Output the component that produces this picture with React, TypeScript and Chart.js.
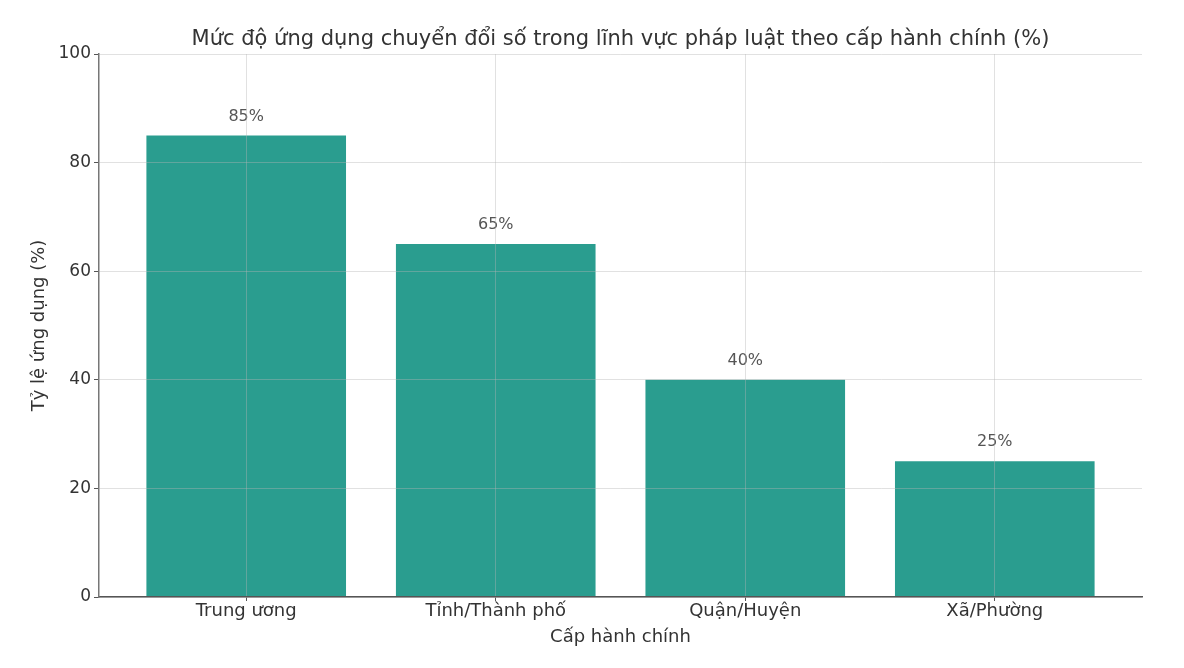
import { useEffect, useRef } from 'react';
import Chart from 'chart.js/auto';

const categories = ['Trung ương', 'Tỉnh/Thành phố', 'Quận/Huyện', 'Xã/Phường'];
const values = [85, 65, 40, 25];
const yTicks = [0, 20, 40, 60, 80, 100];

const chartTitle = 'Mức độ ứng dụng chuyển đổi số trong lĩnh vực pháp luật theo cấp hành chính (%)';
const xTitle = 'Cấp hành chính';
const yTitle = 'Tỷ lệ ứng dụng (%)';

const FONT = '"DejaVu Sans", sans-serif';

// value labels above the bars
const barLabels = {
    id: 'barLabels',
    afterDatasetsDraw(chart: any) {
        const ctx = chart.ctx;
        const meta = chart.getDatasetMeta(0);
        ctx.save();
        ctx.font = `16px ${FONT}`;
        ctx.fillStyle = '#555555';
        ctx.textAlign = 'center';
        ctx.textBaseline = 'middle';
        meta.data.forEach((bar: any, i: number) => {
            ctx.fillText(values[i] + '%', bar.x, bar.y - 19);
        });
        ctx.restore();
    }
};

// title centred over the plot area, like matplotlib does
const plotTitle = {
    id: 'plotTitle',
    afterDraw(chart: any) {
        const { ctx, chartArea } = chart;
        ctx.save();
        ctx.font = `21px ${FONT}`;
        ctx.fillStyle = '#333333';
        ctx.textAlign = 'center';
        ctx.textBaseline = 'middle';
        ctx.fillText(chartTitle, (chartArea.left + chartArea.right) / 2, chartArea.top - 14);
        ctx.restore();
    }
};

const App = () => {
    const canvas = useRef<HTMLCanvasElement>(null);

    useEffect(() => {
        const chart = new Chart(
            // @ts-expect-error next
            canvas.current,
            {
                type: 'bar',
                data: {
                    datasets: [{
                        label: yTitle,
                        data: values.map((v, i) => ({ x: i, y: v })),
                        backgroundColor: '#2a9d8f',
                        borderWidth: 0,
                        categoryPercentage: 1,
                        barPercentage: 0.8
                    }]
                },
                options: {
                    animation: false,
                    responsive: true,
                    maintainAspectRatio: false,
                    layout: {
                        padding: { left: 0, right: 42, top: 54, bottom: 0 }
                    },
                    plugins: {
                        legend: { display: false },
                        tooltip: { enabled: false },
                        title: { display: false }
                    },
                    scales: {
                        x: {
                            type: 'linear',
                            min: -0.59,
                            max: 3.59,
                            offset: false,
                            afterBuildTicks: (scale: any) => {
                                scale.ticks = categories.map((_, i) => ({ value: i }));
                            },
                            afterFit: (scale: any) => {
                                scale.height = 71;
                            },
                            ticks: {
                                autoSkip: false,
                                maxRotation: 0,
                                padding: 0,
                                color: '#333333',
                                font: { family: FONT, size: 18 },
                                callback: (value: any) => categories[value] ?? ''
                            },
                            grid: {
                                offset: false,
                                z: 1,
                                color: 'rgba(180, 180, 180, 0.4)',
                                tickColor: '#555555',
                                tickLength: 4
                            },
                            border: { color: '#555555', width: 1.5, z: 2 },
                            title: {
                                display: true,
                                text: xTitle,
                                color: '#333333',
                                font: { family: FONT, size: 18 },
                                padding: { top: 0, bottom: 20 }
                            }
                        },
                        y: {
                            min: 0,
                            max: 100,
                            afterBuildTicks: (scale: any) => {
                                scale.ticks = yTicks.map(v => ({ value: v }));
                            },
                            afterFit: (scale: any) => {
                                scale.width = 99;
                            },
                            ticks: {
                                padding: 3,
                                color: '#333333',
                                font: { family: FONT, size: 17 }
                            },
                            grid: {
                                z: 1,
                                color: 'rgba(180, 180, 180, 0.4)',
                                tickColor: '#555555',
                                tickLength: 5
                            },
                            border: { color: '#777777', width: 1.5, z: 2 },
                            title: {
                                display: true,
                                text: yTitle,
                                color: '#333333',
                                font: { family: FONT, size: 18 },
                                padding: { top: 29, bottom: 0 }
                            }
                        }
                    }
                },
                plugins: [barLabels, plotTitle]
            }
        );

        return () => {
            chart.destroy();
        };
    }, []);

    return (
        <div style={{ position: 'fixed', left: 0, top: 0, width: 1184, height: 668, background: '#ffffff' }}>
            <canvas ref={canvas} role="img" aria-label={chartTitle}></canvas>
        </div>
    );
};

export default App;
